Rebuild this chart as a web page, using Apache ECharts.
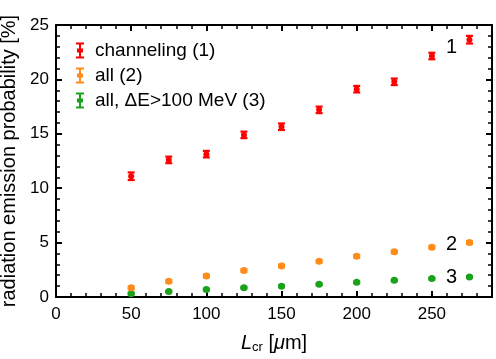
<!DOCTYPE html>
<html><head><meta charset="utf-8">
<script src="https://cdn.jsdelivr.net/npm/echarts@6/dist/echarts.min.js"></script>
<style>html,body{margin:0;padding:0;background:#fff}#c{width:496px;height:359px}</style>
</head><body><div id="c"></div>
<script>
const lengths = [50, 75, 100, 125, 150, 175, 200, 225, 250, 275];
const channeling = [11.1, 12.6, 13.13, 14.9, 15.65, 17.2, 19.1, 19.78, 22.15, 23.65];
const channelingErr = [0.35, 0.3, 0.3, 0.3, 0.3, 0.3, 0.3, 0.3, 0.3, 0.35];
const allRad = [0.84, 1.44, 1.93, 2.43, 2.86, 3.28, 3.74, 4.15, 4.57, 5.0];
const allErr = [0.12, 0.12, 0.12, 0.12, 0.12, 0.12, 0.12, 0.12, 0.12, 0.12];
const allHigh = [0.31, 0.5, 0.68, 0.86, 0.99, 1.17, 1.35, 1.53, 1.69, 1.84];
const allHighErr = [0.08, 0.08, 0.08, 0.08, 0.08, 0.08, 0.08, 0.08, 0.08, 0.08];
const seriesNames = ['channeling (1)', 'all (2)', 'all, \u0394E>100 MeV (3)'];
const colors = ['#ff0000', '#ff8c1a', '#1aa31a'];

function mk(vals, errs) { return lengths.map((x, i) => [x, vals[i], vals[i] - errs[i], vals[i] + errs[i]]); }

function renderErr(dotR) {
  return function (params, api) {
    const x = api.value(0), y = api.value(1), lo = api.value(2), hi = api.value(3);
    const p = api.coord([x, y]), pl = api.coord([x, lo]), ph = api.coord([x, hi]);
    const c = api.visual('color');
    const hw = 3.5;
    const st = { stroke: c, lineWidth: 2.2 };
    return { type: 'group', children: [
      { type: 'line', shape: { x1: pl[0], y1: pl[1], x2: ph[0], y2: ph[1] }, style: st },
      { type: 'line', shape: { x1: pl[0] - hw, y1: pl[1], x2: pl[0] + hw, y2: pl[1] }, style: st },
      { type: 'line', shape: { x1: ph[0] - hw, y1: ph[1], x2: ph[0] + hw, y2: ph[1] }, style: st },
      { type: 'circle', shape: { cx: p[0], cy: p[1], r: dotR }, style: { fill: c } }
    ]};
  };
}

const icon = 'path://M0,0h8v2h-8z M3,2h2v12h-2z M0,14h8v2h-8z M1,6h6v4h-6z';
const font = 'Liberation Sans, Arial, sans-serif';
const chart = echarts.init(document.getElementById('c'));
const axisCommon = {
  axisLine: { show: true, onZero: false, lineStyle: { color: '#000', width: 2 } },
  axisTick: { show: true, inside: true, length: 6, lineStyle: { color: '#000', width: 2 } },
  minorTick: { show: true, splitNumber: 5, length: 4, lineStyle: { color: '#000', width: 1.5 } },
  splitLine: { show: false }
};
const vals = [channeling, allRad, allHigh], errs = [channelingErr, allErr, allHighErr];
chart.setOption({
  animation: false,
  textStyle: { fontFamily: font },
  grid: { left: 56, right: 4, top: 25, bottom: 62, containLabel: false, outerBoundsMode: 'none' },
  legend: {
    left: 71, top: 36, orient: 'vertical', itemGap: 6, itemWidth: 8, itemHeight: 16,
    icon: icon,
    textStyle: { fontSize: 19, color: '#000', fontFamily: font, padding: [0, 0, 0, 6] },
    data: seriesNames
  },
  xAxis: [
    Object.assign({ type: 'value', min: 0, max: 290, interval: 50,
      axisLabel: { fontSize: 17, color: '#000', margin: 9, formatter: v => v > 280 ? '' : v },
      name: '{i|L}{s|cr} [{i|\u03bc}m]', nameLocation: 'middle', nameGap: 36,
      nameTextStyle: { fontSize: 20, color: '#000', rich: { i: { fontStyle: 'italic', fontSize: 20, fontFamily: font }, s: { fontSize: 13, verticalAlign: 'bottom', padding: [8, 0, 0, 0], fontFamily: font } } }
    }, axisCommon),
    Object.assign({ type: 'value', position: 'top', min: 0, max: 290, interval: 50, axisLabel: { show: false } }, axisCommon)
  ],
  yAxis: [
    Object.assign({ type: 'value', min: 0, max: 25, interval: 5,
      axisLabel: { fontSize: 17, color: '#000', margin: 7 },
      name: 'radiation emission probability [%]', nameLocation: 'middle', nameGap: 30,
      nameTextStyle: { fontSize: 20, color: '#000' }
    }, axisCommon),
    Object.assign({ type: 'value', position: 'right', min: 0, max: 25, interval: 5, axisLabel: { show: false } }, axisCommon)
  ],
  series: seriesNames.map((n, k) => ({
    name: n, type: 'custom', itemStyle: { color: colors[k] },
    renderItem: renderErr(k === 0 ? 3 : 3.5),
    encode: { x: 0, y: [1, 2, 3] },
    data: mk(vals[k], errs[k]), z: 10 - k
  })),
  graphic: [
    { type: 'text', left: 446, top: 37, style: { text: '1', fontSize: 20, fill: '#000', fontFamily: font } },
    { type: 'text', left: 446, top: 234, style: { text: '2', fontSize: 20, fill: '#000', fontFamily: font } },
    { type: 'text', left: 446, top: 267, style: { text: '3', fontSize: 20, fill: '#000', fontFamily: font } }
  ]
});
</script></body></html>
